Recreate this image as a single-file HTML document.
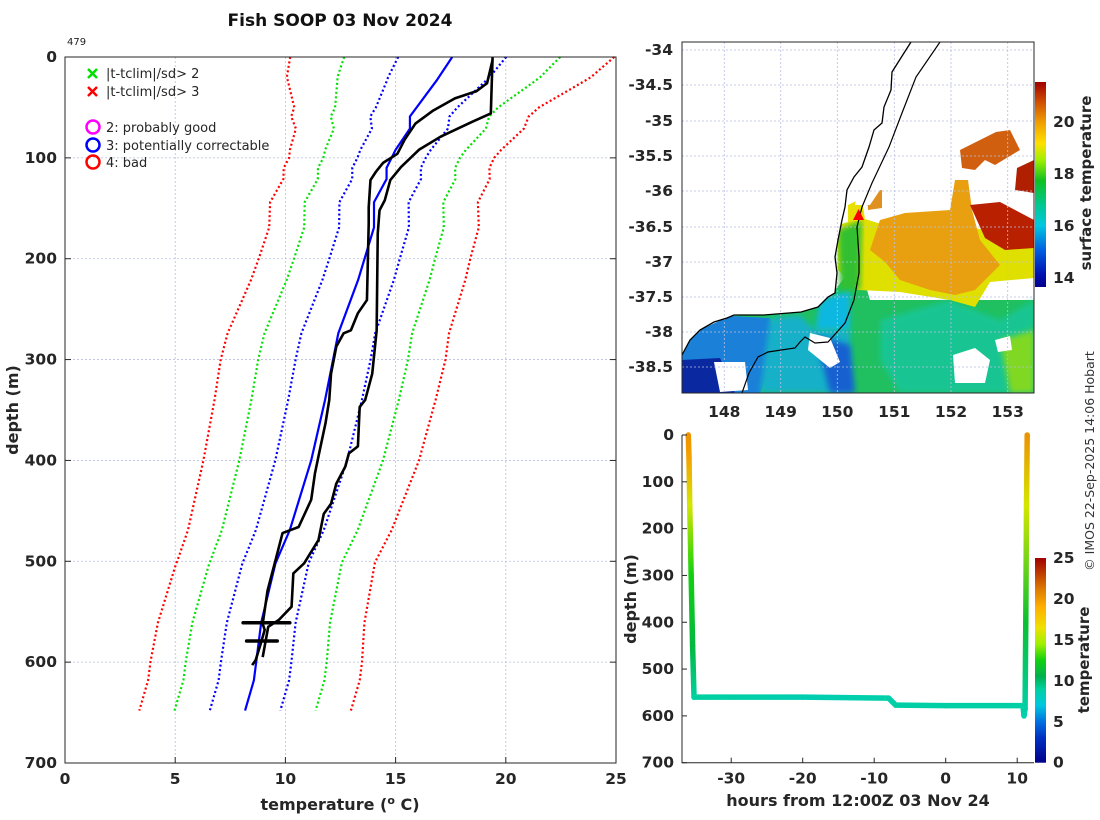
<!DOCTYPE html>
<html><head><meta charset="utf-8"><style>
body{margin:0;background:#fff;}
svg{display:block;font-family:"DejaVu Sans","Liberation Sans",sans-serif;}
.tk{font-size:15.5px;font-weight:bold;fill:#262626;}
.lg{font-size:13px;fill:#262626;}
</style></head><body>
<svg id="s" width="1100" height="820" viewBox="0 0 1100 820" xmlns="http://www.w3.org/2000/svg">
<defs id="dfs">
<linearGradient id="cbA" x1="0" y1="1" x2="0" y2="0">
<stop offset="0" stop-color="#00008a"/><stop offset="0.06" stop-color="#0010b0"/><stop offset="0.18" stop-color="#0060e0"/><stop offset="0.3" stop-color="#00c8e0"/><stop offset="0.4" stop-color="#00c890"/><stop offset="0.52" stop-color="#10c020"/><stop offset="0.62" stop-color="#a0f000"/><stop offset="0.7" stop-color="#ffe000"/><stop offset="0.8" stop-color="#f0a000"/><stop offset="0.9" stop-color="#d05000"/><stop offset="1" stop-color="#a00000"/>
</linearGradient>
<linearGradient id="cbB" x1="0" y1="1" x2="0" y2="0">
<stop offset="0" stop-color="#00008a"/><stop offset="0.12" stop-color="#0030c0"/><stop offset="0.2" stop-color="#0070e0"/><stop offset="0.28" stop-color="#00c8e0"/><stop offset="0.36" stop-color="#00d0a0"/><stop offset="0.42" stop-color="#00b050"/><stop offset="0.5" stop-color="#10d010"/><stop offset="0.58" stop-color="#a0f000"/><stop offset="0.66" stop-color="#f0e000"/><stop offset="0.76" stop-color="#ffb000"/><stop offset="0.84" stop-color="#e08000"/><stop offset="0.92" stop-color="#c04000"/><stop offset="1" stop-color="#a00000"/>
</linearGradient>
<clipPath id="mapclip"><rect x="682" y="42" width="352" height="351"/></clipPath>
<filter id="bl"><feGaussianBlur stdDeviation="3"/></filter>
</defs>

<text x="340" y="26" text-anchor="middle" style="font-size:17px;font-weight:bold;fill:#111">Fish SOOP 03 Nov 2024</text>
<text x="67" y="45" style="font-size:10px;fill:#222">479</text>

<g id="main"></g>

<g>
<g clip-path="url(#mapclip)">
<rect x="682" y="42" width="352" height="351" fill="#fff"/>
<g>
<polygon points="835,290 858,260 870,300 1034,300 1034,393 682,393 682,355 700,330 730,316 801,312 828,297" fill="#20c060"/>
<polygon points="682,340 700,330 730,316 770,318 780,345 760,393 682,393" fill="#1a80d8"/>
<polygon points="682,360 720,358 735,393 682,393" fill="#0a28a0"/>
<polygon points="770,318 800,315 815,330 850,330 850,393 760,393" fill="#18b0c8" filter="url(#bl)"/>
<polygon points="815,335 850,345 855,393 830,393" fill="#1860d0" filter="url(#bl)"/>
<polygon points="820,300 850,290 850,330 815,330" fill="#10b8e0" filter="url(#bl)"/>
<polygon points="880,320 950,300 1000,320 1034,300 1034,393 900,393 880,360" fill="#18c8a8" filter="url(#bl)" opacity="0.7"/>
<polygon points="1000,340 1034,330 1034,393 1010,393" fill="#80d820" filter="url(#bl)"/>
<polygon points="838,225 862,218 900,230 960,225 1034,240 1034,278 990,282 975,307 950,300 900,292 858,290 838,270" fill="#e0e000"/>
<polygon points="838,230 862,220 860,290 840,290" fill="#30c030" filter="url(#bl)"/>
<polygon points="880,220 905,213 950,210 955,180 968,180 972,210 980,240 1000,265 975,290 955,295 930,290 900,280 885,262 870,250" fill="#e8a010"/>
<polygon points="970,205 1000,202 1034,220 1034,248 1005,250 985,238" fill="#b82000"/>
<polygon points="960,150 975,135 1010,130 1020,150 995,165 985,160 975,170 962,168" fill="#d06010"/>
<polygon points="1017,168 1034,160 1034,193 1015,190" fill="#b02000"/>
<polygon points="930,147 945,150 950,168 938,170" fill="#e8d010"/>
<polygon points="867,192 882,190 882,208 868,210" fill="#e09020"/>
<polygon points="848,205 862,198 865,220 848,222" fill="#e8e000"/>
<polygon points="953,355 975,348 990,360 985,383 955,383" fill="#fff"/>
<polygon points="810,333 830,338 840,362 830,368 808,350" fill="#fff"/>
<polygon points="714,362 745,362 748,390 720,392" fill="#fff"/>
<polygon points="995,340 1010,336 1012,350 998,352" fill="#fff"/>
<polygon points="682,42 911,42 904,53 892,72 891,90 884,107 882,123 874,130 869,147 862,167 854,177 847,190 845,207 842,220 838,240 835,257 837,273 835,293 828,297 818,307 801,312 764,315 734,315 727,318 714,322 700,330 690,340 682,355" fill="#fff"/>
<polygon points="862,170 935,42 1034,42 1034,130 1000,130 960,150 955,180 900,190 880,190 870,205 855,205" fill="#fff"/>
</g>
<g stroke="#b8bfe0" stroke-width="0.8" stroke-dasharray="2,2">
<line x1="724.3" y1="42" x2="724.3" y2="393"/><line x1="780.7" y1="42" x2="780.7" y2="393"/><line x1="837.3" y1="42" x2="837.3" y2="393"/><line x1="894.3" y1="42" x2="894.3" y2="393"/><line x1="951" y1="42" x2="951" y2="393"/><line x1="1007.7" y1="42" x2="1007.7" y2="393"/>
<line x1="682" y1="50" x2="1034" y2="50"/><line x1="682" y1="85" x2="1034" y2="85"/><line x1="682" y1="121" x2="1034" y2="121"/><line x1="682" y1="156" x2="1034" y2="156"/><line x1="682" y1="191" x2="1034" y2="191"/><line x1="682" y1="227" x2="1034" y2="227"/><line x1="682" y1="262" x2="1034" y2="262"/><line x1="682" y1="297" x2="1034" y2="297"/><line x1="682" y1="332" x2="1034" y2="332"/><line x1="682" y1="367" x2="1034" y2="367"/>
</g>
<polyline fill="none" stroke="#000" stroke-width="1.3" points="911,42 904,53 892,72 891,90 884,107 882,123 874,130 869,147 862,167 854,177 847,190 845,207 842,220 838,240 835,257 837,273 835,293 828,297 818,307 801,312 764,315 734,315 727,318 714,322 700,330 690,340 682,355"/>
<polyline fill="none" stroke="#000" stroke-width="1.2" points="940,42 916,77 902,113 889,147 872,183 862,207 857,227 859,257 859,273 854,300 845,323 828,342 815,343 805,337 800,342 795,348 768,352 758,357 749,373 742,393"/>
<polygon points="858.6,209 853,220 864,220" fill="#ff0000"/>
</g>
<rect x="682" y="42" width="352" height="351" fill="none" stroke="#262626" stroke-width="1"/>
<g class="tk" text-anchor="middle">
<text x="724.3" y="417">148</text><text x="780.7" y="417">149</text><text x="837.3" y="417">150</text><text x="894.3" y="417">151</text><text x="951" y="417">152</text><text x="1007.7" y="417">153</text>
</g>
<g class="tk" text-anchor="end">
<text x="673" y="55">-34</text><text x="673" y="90">-34.5</text><text x="673" y="126">-35</text><text x="673" y="161">-35.5</text><text x="673" y="196">-36</text><text x="673" y="232">-36.5</text><text x="673" y="267">-37</text><text x="673" y="302">-37.5</text><text x="673" y="337">-38</text><text x="673" y="372">-38.5</text>
</g>
<rect x="1035" y="82" width="11" height="205" fill="url(#cbA)"/>
<g class="tk">
<text x="1053" y="127">20</text><text x="1053" y="179">18</text><text x="1053" y="231">16</text><text x="1053" y="283">14</text>
</g>
<text transform="translate(1091,183) rotate(-90)" text-anchor="middle" style="font-size:15px;font-weight:bold;fill:#262626">surface temperature</text>
</g>

<g id="track"></g>

<text transform="translate(1094,461) rotate(-90)" text-anchor="middle" style="font-size:12.5px;fill:#333">© IMOS 22-Sep-2025 14:06 Hobart</text>
</svg>
<script>
// ---- main profile data ----
const meanDepth=[0,23,59,71,92,110,121,144,169,221,274,340,400,469,502,561,618,648];
const meanTemp=[17.57,16.87,15.65,15.65,15.0,14.59,14.59,14.02,14.02,13.3,12.4,11.8,11.17,10.2,9.55,8.9,8.57,8.17];
const sdDepth=[0,20,50,100,200,300,400,500,600,648];
const sdTemp=[2.45,2.3,1.85,1.55,1.6,1.7,1.63,1.5,1.6,1.6];
const prof1Depth=[0,56,64,79,92,109,122,142,152,175,271,314,327,340,347,386,393,406,423,443,453,479,502,512,545,558,565,595];
const prof1Temp=[19.4,19.32,18.5,17.04,16.06,15.25,14.76,14.51,14.27,14.19,14.14,13.94,13.78,13.62,13.37,13.29,12.88,12.72,12.31,12.07,11.74,11.5,10.85,10.36,10.28,9.71,9.22,8.97];
const prof2Depth=[3,26,34,41,53,66,82,96,105,114,122,149,165,241,254,271,274,287,314,340,363,396,413,439,466,472,499,529,562,568,581,598,603];
const prof2Temp=[19.4,19.15,18.66,17.69,16.71,15.9,15.41,15.08,14.43,14.1,13.86,13.78,13.78,13.7,13.29,12.97,12.64,12.31,12.07,11.99,11.82,11.5,11.34,11.17,10.6,9.87,9.55,9.19,8.97,9.06,8.89,8.65,8.49];
const spikeDepth=[561,579];
const spikeTmin=[8.08,8.24];
const spikeTmax=[10.2,9.63];
const xTicks=[0,5,10,15,20,25];
const yTicks=[0,100,200,300,400,500,600,700];

// ---- depth-time track data ----
const trackHours=[-36.0,-35.9,-35.8,-35.6,-35.4,-35.2,-20,-8.0,-7.0,0,10.8,10.95,11.1,11.2,11.3,11.4];
const trackDepth=[0,50,150,300,450,560,560,562,577,578,578,600,585,400,150,0];
const trackTemp=[20.2,19.6,15.8,12.5,11,9,8.5,8.7,8.8,8.8,8.8,8.5,8.8,11.5,15.8,20.2];
const hourTicks=[-30,-20,-10,0,10];
const trackDepthTicks=[0,100,200,300,400,500,600,700];
const cbTicks=[0,5,10,15,20,25];

const NS="http://www.w3.org/2000/svg";
function mk(tag,attrs,parent){const e=document.createElementNS(NS,tag);for(const k in attrs)e.setAttribute(k,attrs[k]);parent.appendChild(e);return e;}

const L=65,R=616,T=57,B=763;
const sx=t=>L+(t-0)/25*(R-L);
const sy=d=>T+d/700*(B-T);
const g=document.getElementById('main');

const grid=mk('g',{stroke:'#b8bfe0','stroke-width':0.8,'stroke-dasharray':'2,2'},g);


xTicks.forEach(v=>{mk('line',{x1:sx(v),x2:sx(v),y1:T,y2:B},grid);});
yTicks.forEach(v=>{mk('line',{x1:L,x2:R,y1:sy(v),y2:sy(v)},grid);});

function interp(xs,ys,x){if(x<=xs[0])return ys[0];for(let i=1;i<xs.length;i++){if(x<=xs[i]){const f=(x-xs[i-1])/(xs[i]-xs[i-1]);return ys[i-1]+f*(ys[i]-ys[i-1]);}}return ys[ys.length-1];}

const allD=[...new Set(meanDepth.concat(sdDepth))].sort((a,b)=>a-b).filter(d=>d<=648);
const climCols={1:'#0000ff',2:'#00e000',3:'#ff0000'};
[3,2,1].forEach(k=>{[-1,1].forEach(sgn=>{
  const pts=allD.map(d=>sx(interp(meanDepth,meanTemp,d)+sgn*k*interp(sdDepth,sdTemp,d)).toFixed(1)+','+sy(d).toFixed(1)).join(' ');
  const pl=mk('polyline',{points:pts,fill:'none',stroke:climCols[k],'stroke-width':2.2,'stroke-dasharray':'2,2.5'},g);
  
  
});});

const mp=mk('polyline',{points:meanDepth.map((d,i)=>sx(meanTemp[i])+','+sy(d)).join(' '),fill:'none',stroke:'#0000ff','stroke-width':2.2},g);



const p1=mk('polyline',{points:prof1Depth.map((d,i)=>sx(prof1Temp[i])+','+sy(d)).join(' '),fill:'none',stroke:'#000','stroke-width':2.6,'stroke-linejoin':'round'},g);


const p2=mk('polyline',{points:prof2Depth.map((d,i)=>sx(prof2Temp[i])+','+sy(d)).join(' '),fill:'none',stroke:'#000','stroke-width':2.6,'stroke-linejoin':'round'},g);


spikeDepth.forEach((d,i)=>{
  const s=mk('line',{x1:sx(spikeTmin[i]),x2:sx(spikeTmax[i]),y1:sy(d),y2:sy(d),stroke:'#000','stroke-width':3.5,'stroke-linecap':'round'},g);
  
  
});

const fr=mk('rect',{x:L,y:T,width:R-L,height:B-T,fill:'none',stroke:'#262626','stroke-width':1},g);


yTicks.forEach(v=>{
  mk('line',{x1:L,x2:L+6,y1:sy(v),y2:sy(v),stroke:'#262626'},g);
  mk('line',{x1:R-6,x2:R,y1:sy(v),y2:sy(v),stroke:'#262626'},g);
  const t=mk('text',{x:L-8,y:sy(v)+5,'text-anchor':'end',class:'tk'},g);t.textContent=v;
  
  
});
xTicks.forEach(v=>{
  mk('line',{x1:sx(v),x2:sx(v),y1:B-6,y2:B,stroke:'#262626'},g);
  const t=mk('text',{x:sx(v),y:B+21,'text-anchor':'middle',class:'tk'},g);t.textContent=v;
  
  
});
const xt=mk('text',{x:340,y:810,'text-anchor':'middle',style:'font-size:16px;font-weight:bold;fill:#262626'},g);
xt.appendChild(document.createTextNode('temperature ('));
const sup=mk('tspan',{dy:-6,style:'font-size:11px'},xt);sup.textContent='o';
const rest=mk('tspan',{dy:6},xt);rest.textContent=' C)';


const yt=mk('text',{transform:'translate(18,410) rotate(-90)','text-anchor':'middle',style:'font-size:16px;font-weight:bold;fill:#262626'},g);
yt.textContent='depth (m)';



const lg=mk('g',{},g);


[['#00e000',73,'|t-tclim|/sd> 2'],['#ff0000',91,'|t-tclim|/sd> 3']].forEach(r=>{
  mk('path',{d:'M88,'+(r[1]-4)+'l9,9M97,'+(r[1]-4)+'l-9,9',stroke:r[0],'stroke-width':2.5},lg);
  const t=mk('text',{x:106,y:r[1]+5,class:'lg'},lg);t.textContent=r[2];
});
[['#ff00ff',127,'2: probably good'],['#0000ff',145,'3: potentially correctable'],['#ff0000',162,'4: bad']].forEach(r=>{
  mk('circle',{cx:93,cy:r[1],r:6.5,fill:'none',stroke:r[0],'stroke-width':2.5},lg);
  const t=mk('text',{x:106,y:r[1]+5,class:'lg'},lg);t.textContent=r[2];
});

const tg=document.getElementById('track');
const L2=682,R2=1034,T2=435,B2=762.7;
const hx=h=>945.7+h*7.15;
const dy2=d=>T2+d/700*(B2-T2);
const cmStops=[[0,[0,0,138]],[3,[0,48,192]],[5,[0,112,224]],[7,[0,200,224]],[9,[0,208,160]],[10.5,[0,176,80]],[12.5,[16,208,16]],[14.5,[160,240,0]],[16.5,[240,224,0]],[19,[255,176,0]],[21,[224,128,0]],[23,[192,64,0]],[25,[160,0,0]]];
function cmap(v){for(let i=1;i<cmStops.length;i++){if(v<=cmStops[i][0]){const a=cmStops[i-1],b=cmStops[i];const f=(v-a[0])/(b[0]-a[0]);return 'rgb('+a[1].map((c,j)=>Math.round(c+f*(b[1][j]-c))).join(',')+')';}}return 'rgb(160,0,0)';}
const dfs=document.getElementById('dfs');
for(let i=1;i<trackHours.length;i++){
  const id='tg'+i;
  const gr=mk('linearGradient',{id:id,gradientUnits:'userSpaceOnUse',x1:hx(trackHours[i-1]),y1:dy2(trackDepth[i-1]),x2:hx(trackHours[i])+0.01,y2:dy2(trackDepth[i])},dfs);
  mk('stop',{offset:0,'stop-color':cmap(trackTemp[i-1])},gr);
  mk('stop',{offset:1,'stop-color':cmap(trackTemp[i])},gr);
  const s=mk('line',{x1:hx(trackHours[i-1]),y1:dy2(trackDepth[i-1]),x2:hx(trackHours[i])+0.01,y2:dy2(trackDepth[i]),stroke:'url(#'+id+')','stroke-width':5.5,'stroke-linecap':'round'},tg);
  
  
}
mk('path',{d:'M'+L2+','+T2+'V'+B2+'H'+R2,fill:'none',stroke:'#262626','stroke-width':1},tg);
trackDepthTicks.forEach(v=>{
  mk('line',{x1:L2,x2:L2+5,y1:dy2(v),y2:dy2(v),stroke:'#262626'},tg);
  const t=mk('text',{x:L2-8,y:dy2(v)+5,'text-anchor':'end',class:'tk'},tg);t.textContent=v;
  
  
});
hourTicks.forEach(v=>{
  mk('line',{x1:hx(v),x2:hx(v),y1:B2-5,y2:B2,stroke:'#262626'},tg);
  const t=mk('text',{x:hx(v),y:B2+21,'text-anchor':'middle',class:'tk'},tg);t.textContent=v;
  
  
});
const t3=mk('text',{x:858,y:806,'text-anchor':'middle',style:'font-size:16px;font-weight:bold;fill:#262626'},tg);
t3.textContent='hours from 12:00Z 03 Nov 24';


const t4=mk('text',{transform:'translate(636,599) rotate(-90)','text-anchor':'middle',style:'font-size:16px;font-weight:bold;fill:#262626'},tg);
t4.textContent='depth (m)';


const cb=mk('rect',{x:1035,y:558,width:11,height:204.7,fill:'url(#cbB)'},tg);


cbTicks.forEach(v=>{
  const y=762.7-v/25*204.7;
  const t=mk('text',{x:1053,y:y+5,class:'tk'},tg);t.textContent=v;
  
  
});
const t5=mk('text',{transform:'translate(1089,660) rotate(-90)','text-anchor':'middle',style:'font-size:15px;font-weight:bold;fill:#262626'},tg);
t5.textContent='temperature';


</script>
</body></html>
